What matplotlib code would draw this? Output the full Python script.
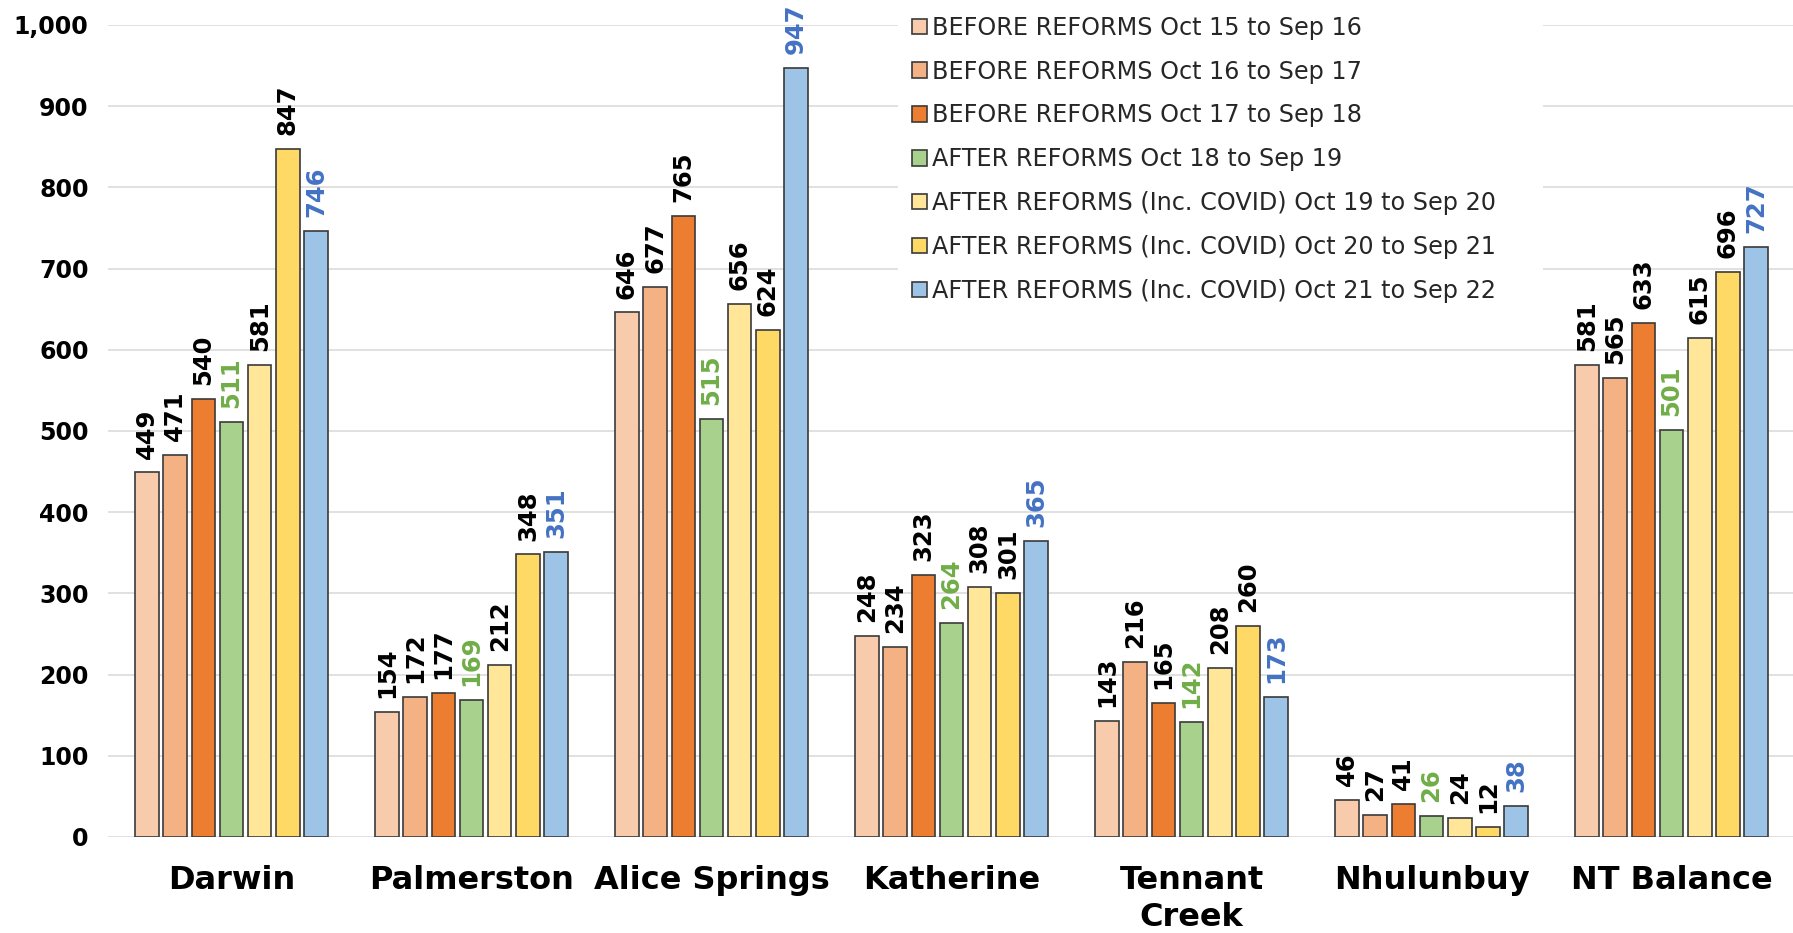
import matplotlib
matplotlib.use("Agg")
import matplotlib.pyplot as plt
import numpy as np
from matplotlib.patches import Rectangle

categories = ["Darwin", "Palmerston", "Alice Springs", "Katherine",
              "Tennant\nCreek", "Nhulunbuy", "NT Balance"]
series_names = [
    "BEFORE REFORMS Oct 15 to Sep 16",
    "BEFORE REFORMS Oct 16 to Sep 17",
    "BEFORE REFORMS Oct 17 to Sep 18",
    "AFTER REFORMS Oct 18 to Sep 19",
    "AFTER REFORMS (Inc. COVID) Oct 19 to Sep 20",
    "AFTER REFORMS (Inc. COVID) Oct 20 to Sep 21",
    "AFTER REFORMS (Inc. COVID) Oct 21 to Sep 22",
]
oct15_sep16 = [449, 154, 646, 248, 143, 46, 581]
oct16_sep17 = [471, 172, 677, 234, 216, 27, 565]
oct17_sep18 = [540, 177, 765, 323, 165, 41, 633]
oct18_sep19 = [511, 169, 515, 264, 142, 26, 501]
oct19_sep20 = [581, 212, 656, 308, 208, 24, 615]
oct20_sep21 = [847, 348, 624, 301, 260, 12, 696]
oct21_sep22 = [746, 351, 947, 365, 173, 38, 727]
yticks = [0, 100, 200, 300, 400, 500, 600, 700, 800, 900, 1000]

series = [oct15_sep16, oct16_sep17, oct17_sep18, oct18_sep19,
          oct19_sep20, oct20_sep21, oct21_sep22]
colors = ["#F8CBAD", "#F4B183", "#ED7D31", "#A9D18E",
          "#FFE699", "#FFD966", "#9DC3E6"]
label_colors = ["black", "black", "black", "#70AD47",
                "black", "black", "#4472C4"]

plt.rcParams["font.family"] = "DejaVu Sans"

fig = plt.figure(figsize=(17.93, 9.33), dpi=100)
ax = fig.add_axes([108 / 1793, 1 - 837 / 933, 1 - 108 / 1793, (837 - 25) / 933])

x = np.arange(len(categories))
step = 0.1175
width = 0.098
for j, vals in enumerate(series):
    pos = x + (j - 3) * step
    bars = ax.bar(pos, vals, width, color=colors[j], edgecolor="#3a3a3a",
                  linewidth=1.2, label=series_names[j], zorder=3)
    for b, v in zip(bars, vals):
        ax.annotate(str(v), (b.get_x() + b.get_width() / 2, v),
                    xytext=(0, 10), textcoords="offset points",
                    rotation=90, ha="center", va="bottom",
                    fontsize=17.5, fontweight="bold", color=label_colors[j],
                    annotation_clip=False, zorder=5)

ax.set_xlim(-0.5146, 6.506)
ax.set_ylim(0, 1000)
ax.set_yticks(yticks)
ax.set_yticklabels([f"{t:,}" for t in yticks], fontsize=17, fontweight="bold")
ax.set_xticks(x)
ax.set_xticklabels(categories, fontsize=23, fontweight="bold", linespacing=1.25)
ax.tick_params(axis="y", length=0, pad=14)
ax.tick_params(axis="x", length=0, pad=20)
ax.grid(axis="y", color="#D9D9D9", linewidth=1.1, zorder=0)
ax.set_axisbelow(True)
for s in ax.spines.values():
    s.set_visible(False)

# white area behind the legend hides the gridlines
ax.add_patch(Rectangle(((898 - 108) / 1685, (837 - 300) / 812),
                       (1543 - 898) / 1685, 1, transform=ax.transAxes,
                       facecolor="white", edgecolor="none", zorder=1,
                       clip_on=False))

leg = ax.legend(loc="upper left", bbox_to_anchor=(0.4706, 1.0246),
                borderaxespad=0, borderpad=0.45, fontsize=17.2,
                handlelength=0.62, handleheight=0.62, handletextpad=0.25,
                labelspacing=0.83, frameon=False)
for t in leg.get_texts():
    t.set_color("#262626")
for h in leg.legend_handles:
    h.set_linewidth(1.2)

fig.savefig("out.png", dpi=100)
